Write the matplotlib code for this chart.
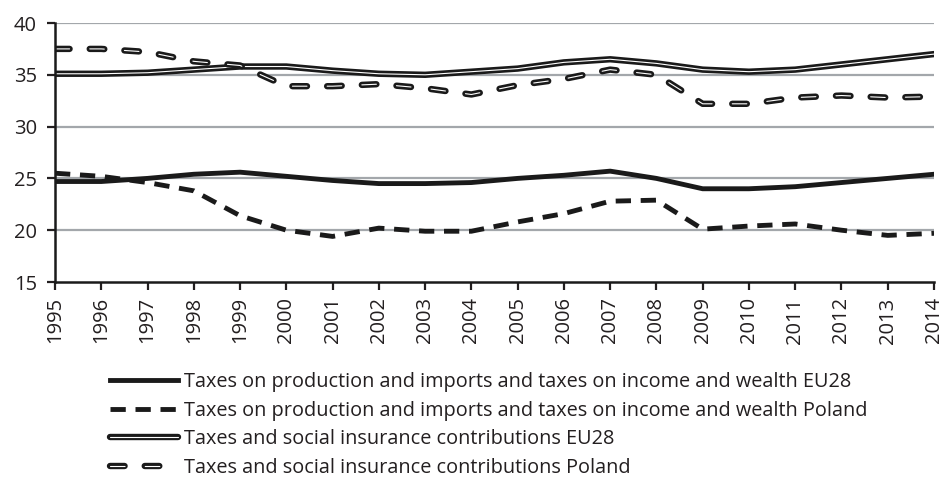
import matplotlib
matplotlib.use('Agg')
import matplotlib.pyplot as plt
from matplotlib.legend_handler import HandlerTuple

plt.rcParams['font.family'] = ['Open Sans', 'DejaVu Sans']
plt.rcParams['lines.scale_dashes'] = False

# データ
years = list(range(1995, 2015))
prod_eu28 = [24.7, 24.7, 25.0, 25.4, 25.6, 25.2, 24.8, 24.5, 24.5, 24.6,
             25.0, 25.3, 25.7, 25.0, 24.0, 24.0, 24.2, 24.6, 25.0, 25.4]
prod_pl = [25.5, 25.2, 24.6, 23.8, 21.4, 20.0, 19.4, 20.2, 19.9, 19.9,
           20.8, 21.6, 22.8, 22.9, 20.1, 20.4, 20.6, 20.0, 19.5, 19.7]
soc_eu28 = [35.1, 35.1, 35.2, 35.5, 35.8, 35.8, 35.4, 35.1, 35.0, 35.3,
            35.6, 36.2, 36.5, 36.1, 35.5, 35.3, 35.5, 36.0, 36.5, 37.0]
soc_pl = [37.5, 37.5, 37.2, 36.3, 35.9, 33.9, 33.9, 34.1, 33.7, 33.1,
          34.0, 34.6, 35.5, 35.0, 32.2, 32.2, 32.8, 33.0, 32.8, 32.9]
labels = ['Taxes on production and imports and taxes on income and wealth EU28',
          'Taxes on production and imports and taxes on income and wealth Poland',
          'Taxes and social insurance contributions EU28',
          'Taxes and social insurance contributions Poland']

TXT = '#231f20'
BLK = '#1a1a1a'
fig = plt.figure(figsize=(9.44, 4.87), dpi=100)
ax = fig.add_axes([55/944, 1-282/487, (934-55)/944, (282-23)/487])

# グリッド
for v in [20, 25, 30, 35, 40]:
    ax.axhline(v, color='#a3a7ab', lw=1.6, zorder=0)

# 実線 EU28
l1, = ax.plot(years, prod_eu28, color=BLK, lw=3.5, solid_joinstyle='round')
# 破線 Poland
l2, = ax.plot(years, prod_pl, color=BLK, lw=3.5, dashes=(11, 7), dash_capstyle='butt')
# 二重線 EU28（黒太線＋白細線）
l3a, = ax.plot(years, soc_eu28, color=BLK, lw=4.6, solid_capstyle='round')
l3b, = ax.plot(years, soc_eu28, color='white', lw=0.8, solid_capstyle='round')
# 二重破線 Poland
l4a, = ax.plot(years, soc_pl, color=BLK, lw=4.6, dashes=(10.5, 14.5), dash_capstyle='round')
l4b, = ax.plot(years, soc_pl, color='white', lw=0.8, dashes=(10.5, 14.5), dash_capstyle='round')

ax.set_xlim(1995, 2014)
ax.set_ylim(15, 40)
ax.set_xticks(years)
ax.set_xticklabels([str(y) for y in years], rotation=90)
ax.set_yticks([15, 20, 25, 30, 35, 40])
ax.tick_params(axis='both', direction='out', length=6, width=1.6, colors=TXT,
               labelsize=14.5)
ax.tick_params(axis='x', pad=5)
ax.tick_params(axis='y', pad=7)
for s in ['top', 'right']:
    ax.spines[s].set_visible(False)
for s in ['left', 'bottom']:
    ax.spines[s].set_linewidth(1.8)
    ax.spines[s].set_color(BLK)

fig.legend([l1, l2, (l3a, l3b), (l4a, l4b)], labels,
           handler_map={tuple: HandlerTuple(ndivide=1)},
           loc='upper left', bbox_to_anchor=(110/944, 1-372/487),
           frameon=False, fontsize=14.3, handlelength=3.4, handletextpad=0.35,
           labelspacing=0.43, borderpad=0, borderaxespad=0, labelcolor=TXT)

fig.savefig('out.png', dpi=100)
